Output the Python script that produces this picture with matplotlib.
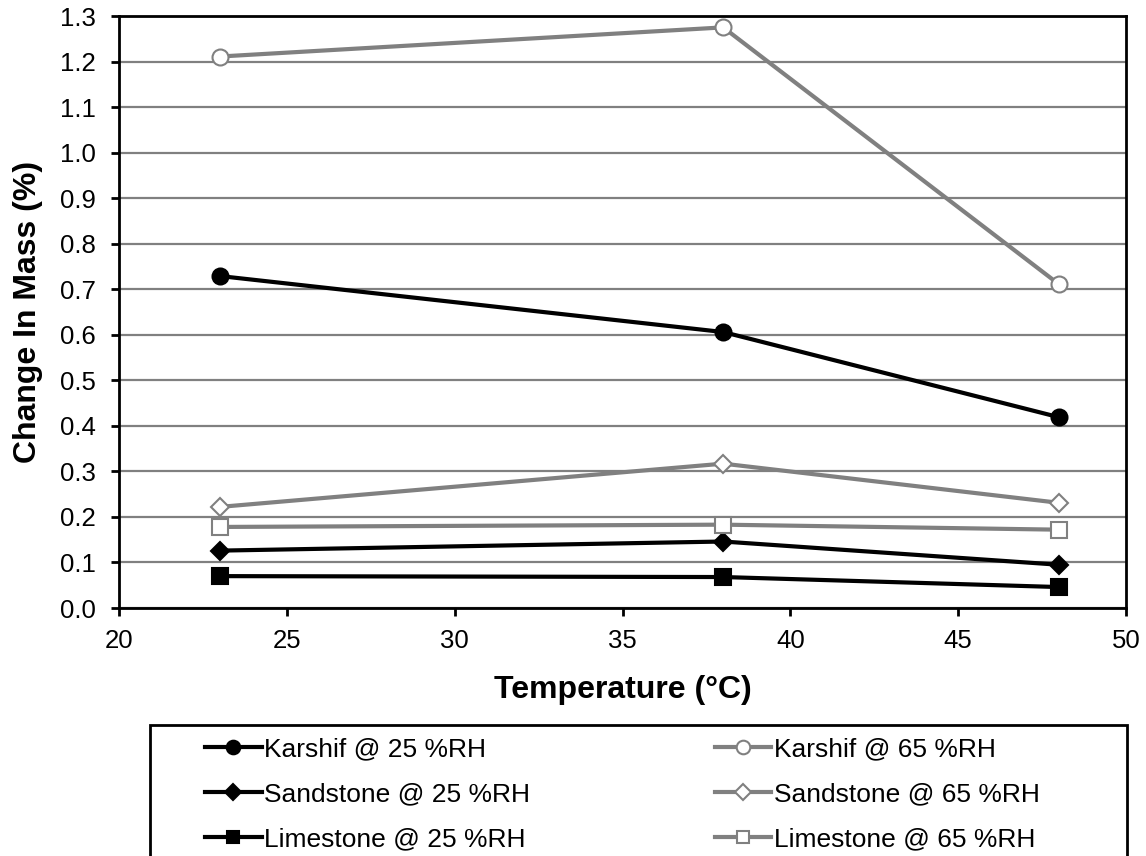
import matplotlib
matplotlib.use("Agg")
import matplotlib.pyplot as plt
from matplotlib.patches import Rectangle

plt.rcParams['font.family'] = ['Liberation Sans', 'DejaVu Sans']

temps = [23, 38, 48]
karshif_25 = [0.729, 0.606, 0.419]
sandstone_25 = [0.126, 0.146, 0.095]
limestone_25 = [0.070, 0.068, 0.046]
karshif_65 = [1.211, 1.275, 0.711]
sandstone_65 = [0.222, 0.317, 0.231]
limestone_65 = [0.178, 0.183, 0.172]

labels = ["Karshif @ 25 %RH", "Sandstone @ 25 %RH", "Limestone @ 25 %RH",
          "Karshif @ 65 %RH", "Sandstone @ 65 %RH", "Limestone @ 65 %RH"]

xticks = [20, 25, 30, 35, 40, 45, 50]
yticks = [0.0, 0.1, 0.2, 0.3, 0.4, 0.5, 0.6, 0.7, 0.8, 0.9, 1.0, 1.1, 1.2, 1.3]

GRAY = '#808080'

fig = plt.figure(figsize=(11.46, 8.56), dpi=100)
ax = fig.add_axes([119/1146, 1 - 608/856, (1126 - 119)/1146, (608 - 16)/856])

series = [
    (karshif_25, 'o', 'black', 'black', 11.5),
    (sandstone_25, 'D', 'black', 'black', 9),
    (limestone_25, 's', 'black', 'black', 11),
    (karshif_65, 'o', GRAY, 'white', 11.5),
    (sandstone_65, 'D', GRAY, 'white', 9),
    (limestone_65, 's', GRAY, 'white', 11),
]
handles = []
for (vals, mk, col, fc, ms), lab in zip(series, labels):
    h, = ax.plot(temps, vals, color=col, lw=3, marker=mk, markersize=ms,
                 markerfacecolor=fc, markeredgecolor=col, markeredgewidth=1.5,
                 label=lab, zorder=3, solid_joinstyle='round')
    handles.append(h)

ax.set_xlim(20, 50)
ax.set_ylim(0, 1.3)
ax.set_xticks(xticks)
ax.set_yticks(yticks)
ax.set_yticklabels([f"{v:.1f}" for v in yticks])
ax.yaxis.grid(True, color=GRAY, lw=1.6)
ax.set_axisbelow(True)
for s in ax.spines.values():
    s.set_linewidth(2)
    s.set_color('black')
ax.tick_params(axis='both', direction='out', length=6, width=2, labelsize=18.5)
ax.tick_params(axis='y', pad=11)
ax.tick_params(axis='x', pad=9)

ax.set_xlabel("Temperature (°C)", fontsize=23, fontweight='bold', labelpad=16)
ax.set_ylabel("Change In Mass (%)", fontsize=23, fontweight='bold', labelpad=12)

# legend box
fig.patches.append(Rectangle((150/1146, -0.05), (1127 - 150)/1146, 0.05 + (856 - 725)/856,
                             transform=fig.transFigure, fill=False, edgecolor='black',
                             lw=2, zorder=1))
leg = fig.legend(handles=handles, labels=labels, ncol=2, loc='upper left',
                 bbox_to_anchor=(205/1146, 1 - 746/856, (1040 - 205)/1146, 0.01),
                 mode='expand', frameon=False, fontsize=19, handlelength=2.15,
                 handletextpad=0.1, labelspacing=0.8, borderpad=0, borderaxespad=0,
                 markerscale=0.85)

fig.savefig("out.png", dpi=100)
